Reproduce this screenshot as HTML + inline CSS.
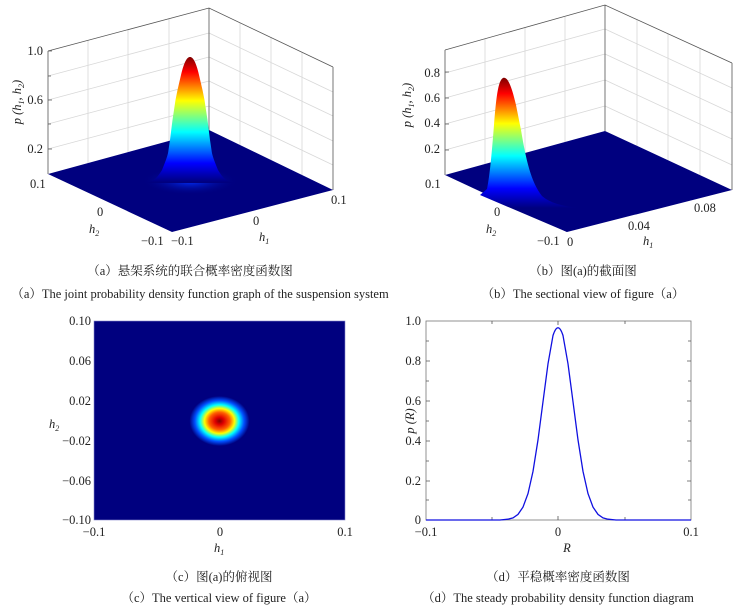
<!DOCTYPE html>
<html><head><meta charset="utf-8"><style>
html,body{margin:0;padding:0;background:#fff;}
svg{display:block;font-family:"Liberation Serif","Noto Serif CJK SC",serif;}
.t{font-size:12.5px;fill:#222;}
.c{font-size:12.5px;fill:#222;}
.g{stroke:#d8d8d8;stroke-width:0.8;fill:none;}
.ax{stroke:#555;stroke-width:0.8;fill:none;}
</style></head><body>
<svg width="744" height="611" viewBox="0 0 744 611" xmlns="http://www.w3.org/2000/svg">
<defs>
<linearGradient id="jetA" x1="0" y1="57" x2="0" y2="182" gradientUnits="userSpaceOnUse">
<stop offset="0" stop-color="#800000"/><stop offset="0.12" stop-color="#ff0000"/>
<stop offset="0.35" stop-color="#ffff00"/><stop offset="0.6" stop-color="#00ffff"/>
<stop offset="0.85" stop-color="#0000ff"/><stop offset="1" stop-color="#00007f"/>
</linearGradient>
<linearGradient id="jetB" x1="0" y1="78" x2="0" y2="208" gradientUnits="userSpaceOnUse">
<stop offset="0" stop-color="#800000"/><stop offset="0.12" stop-color="#ff0000"/>
<stop offset="0.35" stop-color="#ffff00"/><stop offset="0.6" stop-color="#00ffff"/>
<stop offset="0.85" stop-color="#0000ff"/><stop offset="1" stop-color="#00007f"/>
</linearGradient>
<radialGradient id="baseA" cx="0.5" cy="0.5" r="0.5">
<stop offset="0" stop-color="#0030ff"/><stop offset="1" stop-color="#00007f" stop-opacity="0"/>
</radialGradient>
<radialGradient id="jetC" cx="0.5" cy="0.5" r="0.5">
<stop offset="0" stop-color="#800000"/><stop offset="0.15" stop-color="#e00000"/>
<stop offset="0.35" stop-color="#ff6000"/><stop offset="0.5" stop-color="#ffff00"/>
<stop offset="0.65" stop-color="#00ffff"/><stop offset="0.82" stop-color="#0050ff"/>
<stop offset="1" stop-color="#00007f"/>
</radialGradient>
</defs>

<!-- ===== Plot (a) ===== -->
<g>
<path class="g" d="M48,149 L209,106 M48,124 L209,81 M48,100 L209,57 M48,76 L209,33 M88,40 L88,163 M128,30 L128,152 M169,19 L169,141
M209,106 L333,165 M209,81 L333,141 M209,57 L333,116 M209,33 L333,92 M240,23 L240,145 M271,37 L271,160 M302,52 L302,175"/>
<path class="ax" d="M48,51 L209,8 L333,67 M209,8 L209,130 M48,51 L48,174 M333,67 L333,190"/>
<path class="ax" d="M48,51 h4 M48,76 h3 M48,100 h4 M48,124 h3 M48,149 h4"/>
<polygon points="48,174 209,130 333,190 172,232" fill="#00007f"/>
<ellipse cx="190" cy="181" rx="48" ry="14" fill="url(#baseA)"/>
<path d="M145,183 C152,182 156,180 162,170 C166,160 168,155 168.5,150 L170,140 L172.5,120 L175.5,100 L177.5,90 L181,75 C184,62 187,57 190,57 C193,57 196,62 199,75 L202.5,90 L204.5,100 L207.5,120 L210,140 L211.5,150 C212,155 214,160 218,170 C224,180 228,182 235,183 Z" fill="url(#jetA)"/>
<text class="t" x="43" y="55" text-anchor="end">1.0</text>
<text class="t" x="43" y="104" text-anchor="end">0.6</text>
<text class="t" x="43" y="153" text-anchor="end">0.2</text>
<text class="t" transform="translate(21,102) rotate(-90)" text-anchor="middle" font-style="italic">p (h<tspan font-size="8" dy="3">1</tspan><tspan dy="-3">, h</tspan><tspan font-size="8" dy="3">2</tspan><tspan dy="-3">)</tspan></text>
<text class="t" x="30" y="188">0.1</text>
<text class="t" x="97" y="216">0</text>
<text class="t" x="89" y="233" font-style="italic">h<tspan font-size="8" dy="3">2</tspan></text>
<text class="t" x="141" y="245">−0.1</text>
<text class="t" x="171" y="245">−0.1</text>
<text class="t" x="253" y="225">0</text>
<text class="t" x="259" y="241" font-style="italic">h<tspan font-size="8" dy="3">1</tspan></text>
<text class="t" x="331" y="204">0.1</text>
<text class="c" x="190" y="275" text-anchor="middle">（a）悬架系统的联合概率密度函数图</text>
<text class="c" x="200" y="298" text-anchor="middle">（a）The joint probability density function graph of the suspension system</text>
</g>

<!-- ===== Plot (b) ===== -->
<g>
<path class="g" d="M445,150 L605,106 M445,124 L605,80 M445,98 L605,54 M445,73 L605,29 M485,39 L485,164 M525,28 L525,153 M565,17 L565,142
M605,106 L732,165 M605,80 L732,139 M605,54 L732,113 M605,29 L732,88 M637,20 L637,146 M668,34 L668,161 M700,49 L700,175"/>
<path class="ax" d="M445,50 L605,5 L732,63 M605,5 L605,131 M445,50 L445,175 M732,63 L732,190"/>
<path class="ax" d="M445,72 h4 M445,98 h4 M445,124 h4 M445,150 h4"/>
<polygon points="445,175 605,131 732,190 567,232" fill="#00007f"/>
<path d="M480,195 L487,189 C490,175 492,150 494,125 C496,100 498,80 503,78 C508,76 512,88 516,105 L521,130 C526,160 531,182 542,196 C550,203 562,206 578,208 L567,232 Z" fill="url(#jetB)"/>
<text class="t" x="440" y="77" text-anchor="end">0.8</text>
<text class="t" x="440" y="102" text-anchor="end">0.6</text>
<text class="t" x="440" y="127" text-anchor="end">0.4</text>
<text class="t" x="440" y="153" text-anchor="end">0.2</text>
<text class="t" transform="translate(411,105) rotate(-90)" text-anchor="middle" font-style="italic">p (h<tspan font-size="8" dy="3">1</tspan><tspan dy="-3">, h</tspan><tspan font-size="8" dy="3">2</tspan><tspan dy="-3">)</tspan></text>
<text class="t" x="425" y="188">0.1</text>
<text class="t" x="494" y="216">0</text>
<text class="t" x="486" y="233" font-style="italic">h<tspan font-size="8" dy="3">2</tspan></text>
<text class="t" x="537" y="245">−0.1</text>
<text class="t" x="567" y="246">0</text>
<text class="t" x="628" y="230">0.04</text>
<text class="t" x="643" y="245" font-style="italic">h<tspan font-size="8" dy="3">1</tspan></text>
<text class="t" x="694" y="212">0.08</text>
<text class="c" x="583" y="275" text-anchor="middle">（b）图(a)的截面图</text>
<text class="c" x="583" y="298" text-anchor="middle">（b）The sectional view of figure（a）</text>
</g>

<!-- ===== Plot (c) ===== -->
<g>
<rect x="94" y="321" width="251" height="199" fill="#00007f"/>
<ellipse cx="219.5" cy="421" rx="30" ry="25" fill="url(#jetC)"/>
<rect x="94" y="321" width="251" height="199" fill="none" stroke="#8888cc" stroke-width="0.6"/>
<text class="t" x="91" y="325" text-anchor="end">0.10</text>
<text class="t" x="91" y="365" text-anchor="end">0.06</text>
<text class="t" x="91" y="405" text-anchor="end">0.02</text>
<text class="t" x="91" y="445" text-anchor="end">−0.02</text>
<text class="t" x="91" y="485" text-anchor="end">−0.06</text>
<text class="t" x="91" y="524" text-anchor="end">−0.10</text>
<text class="t" x="49" y="428" font-style="italic">h<tspan font-size="8" dy="3">2</tspan></text>
<text class="t" x="94" y="536" text-anchor="middle">−0.1</text>
<text class="t" x="220" y="536" text-anchor="middle">0</text>
<text class="t" x="345" y="536" text-anchor="middle">0.1</text>
<text class="t" x="214" y="552" font-style="italic">h<tspan font-size="8" dy="3">1</tspan></text>
<text class="c" x="219" y="581" text-anchor="middle">（c）图(a)的俯视图</text>
<text class="c" x="219" y="602" text-anchor="middle">（c）The vertical view of figure（a）</text>
</g>

<!-- ===== Plot (d) ===== -->
<g>
<rect x="426" y="321" width="265" height="199" fill="none" stroke="#777" stroke-width="0.8"/>
<path class="ax" d="M426,341 h3 M426,361 h4 M426,381 h3 M426,401 h4 M426,421 h3 M426,441 h4 M426,461 h3 M426,481 h4 M426,500 h3
M691,341 h-3 M691,361 h-4 M691,381 h-3 M691,401 h-4 M691,421 h-3 M691,441 h-4 M691,461 h-3 M691,481 h-4 M691,500 h-3
M492,520 v-3 M558,520 v-4 M625,520 v-3 M492,321 v3 M558,321 v4 M625,321 v3"/>
<path fill="none" stroke="#1010e0" stroke-width="1.3" d="M426,520 L500,520 L508,519.2 L513,517.9 L518,514.4 L523,507.1 L528,493.6 L533,471.4 L538,439.9 L543,401.7 L548,363.8 L553,335.5 Q558,320 563,335.5 L568,363.8 L573,401.7 L578,439.9 L583,471.4 L588,493.6 L593,507.1 L598,514.4 L603,517.9 L608,519.2 L616,520 L691,520"/>
<text class="t" x="421" y="325" text-anchor="end">1.0</text>
<text class="t" x="421" y="365" text-anchor="end">0.8</text>
<text class="t" x="421" y="405" text-anchor="end">0.6</text>
<text class="t" x="421" y="445" text-anchor="end">0.4</text>
<text class="t" x="421" y="485" text-anchor="end">0.2</text>
<text class="t" x="421" y="524" text-anchor="end">0</text>
<text class="t" transform="translate(414,421) rotate(-90)" text-anchor="middle" font-style="italic">p (R)</text>
<text class="t" x="426" y="536" text-anchor="middle">−0.1</text>
<text class="t" x="558" y="536" text-anchor="middle">0</text>
<text class="t" x="691" y="536" text-anchor="middle">0.1</text>
<text class="t" x="567" y="552" text-anchor="middle" font-style="italic">R</text>
<text class="c" x="558" y="581" text-anchor="middle">（d）平稳概率密度函数图</text>
<text class="c" x="558" y="602" text-anchor="middle">（d）The steady probability density function diagram</text>
</g>
</svg>
</body></html>
